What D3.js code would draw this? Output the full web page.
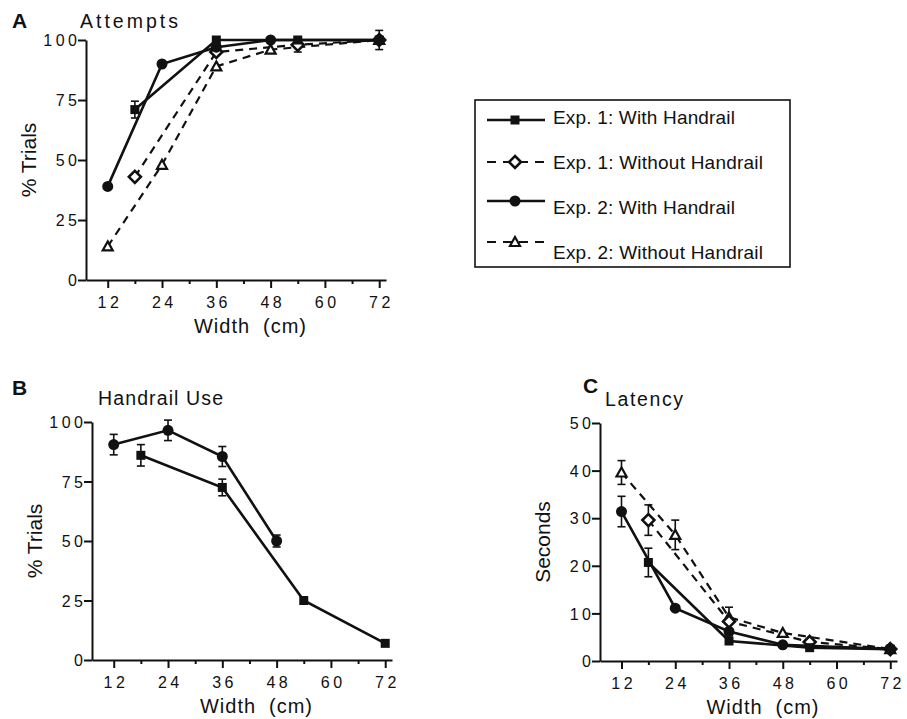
<!DOCTYPE html>
<html>
<head>
<meta charset="utf-8">
<script src="https://cdn.jsdelivr.net/npm/d3@7"></script>
<style>
  body { margin: 0; background: #fff; }
  text { font-family: "Liberation Sans", Arial, Helvetica, sans-serif; fill: #111; }
</style>
</head>
<body>
<svg id="chart" width="907" height="719"></svg>
<script>
// widths tested in each experiment (cm)
const widthsExp1 = [18, 36, 54, 72];
const widthsExp2 = [12, 24, 36, 48, 72];

const xTicks = [12, 24, 36, 48, 60, 72];
const xMinorTicks = [18, 30, 42, 54, 66];
const pctTicks = [0, 25, 50, 75, 100];
const secTicks = [0, 10, 20, 30, 40, 50];

// A: attempts (% trials)
const attExp1With = [71, 100, 100, 100];
const attExp1WithErr = [3.5, 0, 0, 0];
const attExp1Without = [43, 95, 98, 100];
const attExp1WithoutErr = [0, 0, 3, 0];
const attExp2With = [39, 90, 97, 100, 100];
const attExp2WithErr = [0, 0, 0, 0, 0];
const attExp2Without = [14, 48, 89, 96, 100];
const attExp2WithoutErr = [0, 0, 0, 0, 4];

// B: handrail use (% trials)
const useExp1With = [86, 72.5, 25, 7];
const useExp1WithErr = [4.5, 3.5, 0, 0];
const useExp2With = [90.5, 96.5, 85.5, 50, null];
const useExp2WithErr = [4.3, 4.3, 4.2, 2.5, 0];

// C: latency (seconds)
const latExp1With = [20.7, 4.2, 2.8, 2.5];
const latExp1WithErr = [3, 0, 0, 0];
const latExp1Without = [29.6, 8.3, 4.0, 2.5];
const latExp1WithoutErr = [3.2, 3, 0, 0];
const latExp2With = [31.4, 11.1, 6.2, 3.4, 2.5];
const latExp2WithErr = [3.2, 0, 0, 0, 0];
const latExp2Without = [39.6, 26.5, 9.2, 5.9, 2.5];
const latExp2WithoutErr = [2.5, 3.1, 0, 0, 0];

const legendLabels = ["Exp. 1: With Handrail", "Exp. 1: Without Handrail",
                      "Exp. 2: With Handrail", "Exp. 2: Without Handrail"];

const ink = "#111";
const svg = d3.select("#chart");

// marker drawing helper
function marker(sel, kind) {
  if (kind === "square") {
    sel.append("rect").attr("x", -4.5).attr("y", -4.5).attr("width", 9).attr("height", 9)
      .attr("fill", ink);
  } else if (kind === "circle") {
    sel.append("circle").attr("r", 5.5).attr("fill", ink);
  } else if (kind === "diamond") {
    sel.append("path").attr("d", "M0,-6 L6,0 L0,6 L-6,0 Z")
      .attr("fill", "#fff").attr("stroke", ink).attr("stroke-width", 2.6);
  } else {
    sel.append("path").attr("d", "M0,-5 L5,4 L-5,4 Z")
      .attr("fill", "#fff").attr("stroke", ink).attr("stroke-width", 2.2);
  }
}

function drawPanel(opt) {
  const g = svg.append("g");
  const x = d3.scaleLinear().domain([7.2, 73.5]).range(opt.xRange);
  const y = d3.scaleLinear().domain([0, d3.max(opt.yTicks)]).range(opt.yRange);
  const ls = 3.5;

  // x axis, major ticks
  const xa = g.append("g").attr("transform", `translate(0,${opt.yRange[0]})`)
    .call(d3.axisBottom(x).tickValues(xTicks).tickSize(8).tickSizeOuter(0).tickPadding(9));
  // minor ticks
  g.append("g").attr("transform", `translate(0,${opt.yRange[0]})`)
    .call(d3.axisBottom(x).tickValues(xMinorTicks).tickSize(4).tickFormat(""))
    .call(a => a.select(".domain").remove());
  // y axis
  const ya = g.append("g").attr("transform", `translate(${opt.xRange[0]},0)`)
    .call(d3.axisLeft(y).tickValues(opt.yTicks).tickSize(8).tickSizeOuter(0));

  g.selectAll(".domain, .tick line").attr("stroke", ink).attr("stroke-width", 2);
  xa.selectAll("text").attr("font-size", 16).attr("letter-spacing", ls).attr("dx", ls / 2)
    .attr("font-family", null).attr("fill", ink);
  ya.selectAll("text").attr("font-size", 16).attr("letter-spacing", ls)
    .attr("x", -8 + ls - 1).attr("dy", "0.36em").attr("font-family", null).attr("fill", ink);
  g.selectAll("g").attr("font-family", null).attr("font-size", null);

  // series: lines first, then error bars, then markers
  opt.series.forEach(s => {
    const pts = s.widths.map((w, i) => ({ w, v: s.values[i], e: s.err[i] }))
      .filter(d => d.v != null);
    g.append("path").datum(pts)
      .attr("d", d3.line().x(d => x(d.w)).y(d => y(d.v)))
      .attr("fill", "none").attr("stroke", ink)
      .attr("stroke-width", s.dashed ? 2.2 : 2.6)
      .attr("stroke-dasharray", s.dashed ? "8,6" : null);
    s.pts = pts;
  });
  opt.series.forEach(s => {
    const eb = g.selectAll(null).data(s.pts.filter(d => d.e > 0)).enter().append("g")
      .attr("stroke", ink).attr("stroke-width", 1.6);
    eb.append("line").attr("x1", d => x(d.w)).attr("x2", d => x(d.w))
      .attr("y1", d => y(d.v + d.e)).attr("y2", d => y(d.v - d.e));
    eb.append("line").attr("x1", d => x(d.w) - 4).attr("x2", d => x(d.w) + 4)
      .attr("y1", d => y(d.v + d.e)).attr("y2", d => y(d.v + d.e));
    eb.append("line").attr("x1", d => x(d.w) - 4).attr("x2", d => x(d.w) + 4)
      .attr("y1", d => y(d.v - d.e)).attr("y2", d => y(d.v - d.e));
  });
  opt.series.forEach(s => {
    g.selectAll(null).data(s.pts).enter().append("g")
      .attr("transform", d => `translate(${x(d.w)},${y(d.v)})`)
      .each(function () { marker(d3.select(this), s.marker); });
  });

  // panel letter and title
  g.append("text").attr("x", opt.letterPos[0]).attr("y", opt.letterPos[1])
    .attr("font-size", 21).attr("font-weight", "bold").text(opt.letter);
  g.append("text").attr("x", opt.titlePos[0]).attr("y", opt.titlePos[1])
    .attr("font-size", 19.5).attr("textLength", opt.titleLen).attr("lengthAdjust", "spacing")
    .text(opt.title);
  // axis labels
  const cx = (opt.xRange[0] + opt.xRange[1]) / 2 + 14;
  g.append("text").attr("x", cx).attr("y", opt.yRange[0] + 53)
    .attr("text-anchor", "middle").attr("font-size", 20)
    .attr("textLength", 112).attr("lengthAdjust", "spacing")
    .text("Width\u00a0 (cm)");
  g.append("text")
    .attr("transform", `translate(${opt.xRange[0] - 50},${(opt.yRange[0] + opt.yRange[1]) / 2}) rotate(-90)`)
    .attr("text-anchor", "middle").attr("font-size", 21)
    .text(opt.yLabel);
}

const sq1 = (v, e) => ({ widths: widthsExp1, values: v, err: e, marker: "square", dashed: false });
const di1 = (v, e) => ({ widths: widthsExp1, values: v, err: e, marker: "diamond", dashed: true });
const ci2 = (v, e) => ({ widths: widthsExp2, values: v, err: e, marker: "circle", dashed: false });
const tr2 = (v, e) => ({ widths: widthsExp2, values: v, err: e, marker: "triangle", dashed: true });

drawPanel({
  xRange: [86, 386], yRange: [280, 40], yTicks: pctTicks,
  letter: "A", letterPos: [12, 28], title: "Attempts", titlePos: [80, 28], titleLen: 98,
  yLabel: "% Trials",
  series: [tr2(attExp2Without, attExp2WithoutErr), di1(attExp1Without, attExp1WithoutErr),
           sq1(attExp1With, attExp1WithErr), ci2(attExp2With, attExp2WithErr)]
});

drawPanel({
  xRange: [92, 392], yRange: [660, 422], yTicks: pctTicks,
  letter: "B", letterPos: [12, 395], title: "Handrail Use", titlePos: [98, 405], titleLen: 125,
  yLabel: "% Trials",
  series: [sq1(useExp1With, useExp1WithErr), ci2(useExp2With, useExp2WithErr)]
});

drawPanel({
  xRange: [600, 897], yRange: [661, 423], yTicks: secTicks,
  letter: "C", letterPos: [583, 393], title: "Latency", titlePos: [605, 406], titleLen: 78,
  yLabel: "Seconds",
  series: [tr2(latExp2Without, latExp2WithoutErr), di1(latExp1Without, latExp1WithoutErr),
           sq1(latExp1With, latExp1WithErr), ci2(latExp2With, latExp2WithErr)]
});

// legend
const kinds = [["square", false], ["diamond", true], ["circle", false], ["triangle", true]];
const lineY = [120, 162, 201, 242];
const textY = [124, 169, 214, 259];
const textLen = [182, 210, 182, 210];
const lg = svg.append("g");
lg.append("rect").attr("x", 475).attr("y", 100).attr("width", 315).attr("height", 167)
  .attr("fill", "none").attr("stroke", ink).attr("stroke-width", 1.6);
kinds.forEach(([k, dashed], i) => {
  lg.append("line").attr("x1", 487).attr("x2", 545).attr("y1", lineY[i]).attr("y2", lineY[i])
    .attr("stroke", ink).attr("stroke-width", dashed ? 2.2 : 2.4)
    .attr("stroke-dasharray", dashed ? "9,7" : null);
  const m = lg.append("g").attr("transform", `translate(515,${lineY[i]})`);
  marker(m, k);
  lg.append("text").attr("x", 553).attr("y", textY[i]).attr("font-size", 19)
    .attr("textLength", textLen[i]).attr("lengthAdjust", "spacing").text(legendLabels[i]);
});
</script>
</body>
</html>
